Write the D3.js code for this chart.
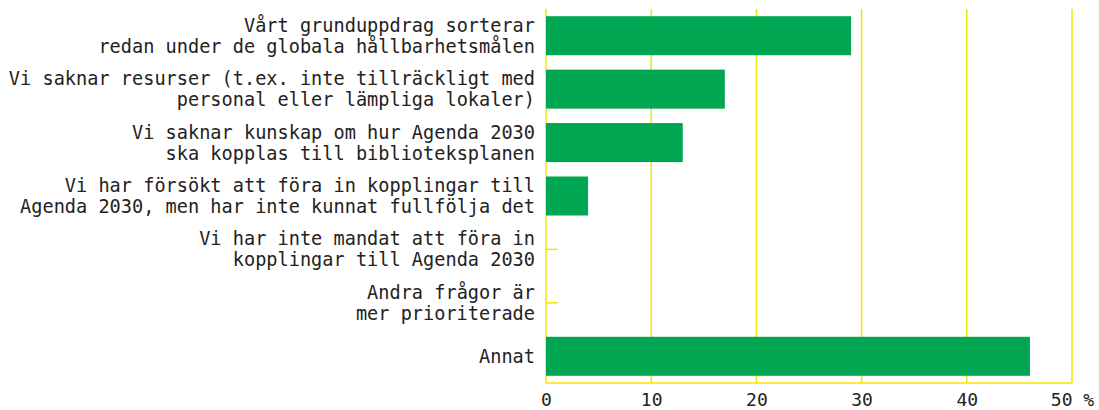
<!DOCTYPE html>
<html>
<head>
<meta charset="utf-8">
<script src="https://cdn.jsdelivr.net/npm/d3@7"></script>
<style>
  body { margin: 0; background: #fff; }
  text { font-family: "DejaVu Sans Mono", "Liberation Mono", monospace; fill: #222; }
</style>
</head>
<body>
<div id="chart"></div>
<script>
const categories = [
    ["Vårt grunduppdrag sorterar", "redan under de globala hållbarhetsmålen"],
    ["Vi saknar resurser (t.ex. inte tillräckligt med", "personal eller lämpliga lokaler)"],
    ["Vi saknar kunskap om hur Agenda 2030", "ska kopplas till biblioteksplanen"],
    ["Vi har försökt att föra in kopplingar till", "Agenda 2030, men har inte kunnat fullfölja det"],
    ["Vi har inte mandat att föra in", "kopplingar till Agenda 2030"],
    ["Andra frågor är", "mer prioriterade"],
    ["Annat"]
];
const values = [29, 17, 13, 4, 0, 0, 46];
const xTicks = [0, 10, 20, 30, 40, 50];

function renderBarChart(containerId = "#chart") {
    const margin = { top: 9, right: 27, bottom: 27, left: 546 },
          width = 1099 - margin.left - margin.right,
          height = 410 - margin.top - margin.bottom;

    const svg = d3.select(containerId)
        .append("svg")
        .attr("width", 1099)
        .attr("height", 410)
        .append("g")
        .attr("transform", `translate(${margin.left},${margin.top})`);

    const data = categories.map((c, i) => ({ id: i, lines: c, value: values[i] }));

    const x = d3.scaleLinear()
        .domain([0, 50])
        .range([0, width]);

    const y = d3.scaleBand()
        .domain(data.map(d => d.id))
        .range([0, height])
        .paddingInner(0.27)
        .paddingOuter(0.135);

    const yellow = "#f2e600";

    // vertical grid lines
    svg.selectAll(".grid")
        .data(xTicks)
        .enter()
        .append("line")
        .attr("x1", d => x(d))
        .attr("x2", d => x(d))
        .attr("y1", 0)
        .attr("y2", height)
        .style("stroke", yellow)
        .style("stroke-width", 1.5);

    svg.append("line")
        .attr("x1", 0)
        .attr("x2", width)
        .attr("y1", height)
        .attr("y2", height)
        .style("stroke", yellow)
        .style("stroke-width", 1.5);

    svg.selectAll(".bar")
        .data(data.filter(d => d.value > 0))
        .enter()
        .append("rect")
        .attr("x", x(0))
        .attr("y", d => y(d.id))
        .attr("width", d => x(d.value) - x(0))
        .attr("height", y.bandwidth())
        .style("fill", "#00a651");

    // marker for empty categories
    svg.selectAll(".zero")
        .data(data.filter(d => d.value === 0))
        .enter()
        .append("line")
        .attr("x1", x(0))
        .attr("x2", x(0) + 12)
        .attr("y1", d => y(d.id) + y.bandwidth() / 2)
        .attr("y2", d => y(d.id) + y.bandwidth() / 2)
        .style("stroke", yellow)
        .style("stroke-width", 1.5);

    // category labels
    const lineH = 21;
    const labels = svg.selectAll(".label")
        .data(data)
        .enter()
        .append("text")
        .attr("text-anchor", "end")
        .style("font-size", "18.6px")
        .attr("transform", d => `translate(-11, ${y(d.id) + y.bandwidth() / 2})`);

    labels.selectAll("tspan")
        .data(d => d.lines.map((t, i) => ({ t, i, n: d.lines.length })))
        .enter()
        .append("tspan")
        .attr("x", 0)
        .attr("y", d => (d.i - (d.n - 1) / 2) * lineH)
        .attr("dy", "0.35em")
        .text(d => d.t);

    // x axis
    const xAxis = svg.append("g")
        .attr("transform", `translate(0, ${height})`)
        .call(d3.axisBottom(x).tickValues(xTicks).tickSize(0).tickPadding(10)
            .tickFormat(d => d === 50 ? "50 %" : d));
    xAxis.select(".domain").remove();
    xAxis.selectAll("text")
        .style("font-size", "18px")
        .style("font-family", "DejaVu Sans Mono, monospace")
        .attr("fill", "#222");
}

renderBarChart();
</script>
</body>
</html>
